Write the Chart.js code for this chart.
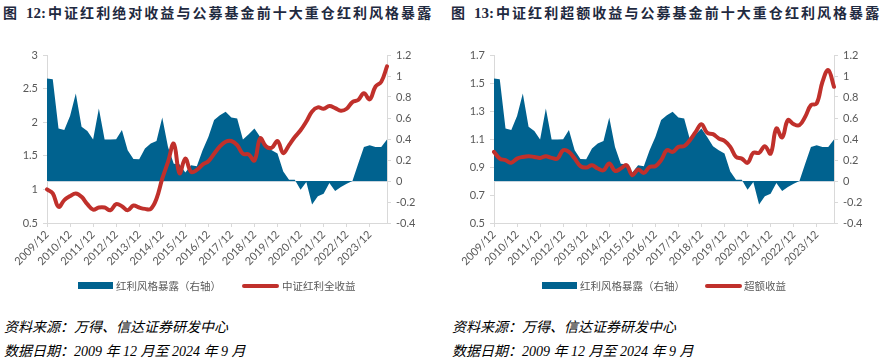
<!DOCTYPE html>
<html><head><meta charset="utf-8">
<script src="https://cdn.jsdelivr.net/npm/chart.js@4/dist/chart.umd.min.js"></script>
<style>
body{margin:0;width:890px;height:364px;background:#fff;position:relative;overflow:hidden;font-family:"Noto Sans CJK SC",sans-serif;}
.title{position:absolute;top:2px;font-size:14px;font-weight:700;color:#1f2a40;white-space:nowrap;line-height:20px;}
.title .num{font-family:"Liberation Serif",serif;font-size:15px;margin-left:9px;margin-right:2px;}
.title .txt{letter-spacing:2.05px;}
.box{position:absolute;top:0;width:445px;height:300px;}
.lg{position:absolute;font-size:10.5px;color:#595959;white-space:nowrap;line-height:14px;top:279px;}
.sw{position:absolute;}
.foot{position:absolute;font-style:italic;font-size:14px;color:#000;white-space:nowrap;font-family:"Liberation Serif","Noto Sans CJK SC",serif;line-height:18px;}
</style></head>
<body>
<div class="title" style="left:3px">图<span class="num">12:</span><span class="txt">中证红利绝对收益与公募基金前十大重仓红利风格暴露</span></div>
<div class="title" style="left:451px">图<span class="num">13:</span><span class="txt">中证红利超额收益与公募基金前十大重仓红利风格暴露</span></div>
<div class="box" style="left:0"><canvas id="c1" width="445" height="300"></canvas></div>
<div class="box" style="left:445px"><canvas id="c2" width="445" height="300"></canvas></div>

<div class="sw" style="left:78px;top:282px;width:35px;height:7px;background:#00628f"></div>
<div class="lg" style="left:116px">红利风格暴露（右轴）</div>
<div class="sw" style="left:242px;top:284px;width:37px;height:4px;border-radius:2px;background:#c0302b"></div>
<div class="lg" style="left:282px">中证红利全收益</div>

<div class="sw" style="left:542px;top:282px;width:35px;height:7px;background:#00628f"></div>
<div class="lg" style="left:580px">红利风格暴露（右轴）</div>
<div class="sw" style="left:705px;top:284px;width:37px;height:4px;border-radius:2px;background:#c0302b"></div>
<div class="lg" style="left:744px">超额收益</div>

<div class="foot" style="left:4px;top:319px">资料来源：万得、信达证券研发中心</div>
<div class="foot" style="left:4px;top:343px">数据日期：2009 年 12 月至 2024 年 9 月</div>
<div class="foot" style="left:452px;top:319px">资料来源：万得、信达证券研发中心</div>
<div class="foot" style="left:452px;top:343px">数据日期：2009 年 12 月至 2024 年 9 月</div>

<script>
// Quarterly categories 2009/12 .. 2024/09
const categories = [];
for (let y = 2009, m = 12; y < 2024 || (y === 2024 && m <= 9); ) {
  categories.push(y + '/' + String(m).padStart(2, '0'));
  m += 3; if (m > 12) { m -= 12; y += 1; }
}
const tickLabels = categories.filter(c => c.endsWith('/12'));

// 红利风格暴露 (right axis), quarterly
const exposure = [
  0.977, 0.968, 0.50, 0.485, 0.618, 0.834, 0.516, 0.477, 0.395, 0.691,
  0.395, 0.395, 0.398, 0.485, 0.293, 0.21, 0.208, 0.309, 0.357, 0.382,
  0.605, 0.325, 0.165, 0.16, 0.08, 0.15, 0.14, 0.293, 0.42, 0.58,
  0.627, 0.659, 0.605, 0.596, 0.395, 0.446, 0.50, 0.42, 0.332, 0.293,
  0.261, 0.09, 0.013, 0.013, -0.083, -0.01, -0.223, -0.146, -0.121, -0.019,
  -0.095, -0.057, -0.025, 0.0, 0.165, 0.325, 0.34, 0.325, 0.325, 0.395
];
// 中证红利全收益 (left axis, chart 12)
const totalReturn = [
  1.00, 0.94, 0.74, 0.84, 0.90, 0.94, 0.89, 0.78, 0.70, 0.73,
  0.73, 0.69, 0.78, 0.75, 0.69, 0.76, 0.73, 0.71, 0.71, 0.86,
  1.16, 1.41, 1.68, 1.24, 1.46, 1.26, 1.29, 1.37, 1.42, 1.53,
  1.64, 1.71, 1.72, 1.66, 1.53, 1.52, 1.43, 1.76, 1.64, 1.62,
  1.72, 1.54, 1.66, 1.78, 1.88, 2.01, 2.16, 2.22, 2.20, 2.24,
  2.21, 2.17, 2.20, 2.30, 2.33, 2.43, 2.34, 2.53, 2.60, 2.83
];
// 超额收益 (left axis, chart 13)
const excessReturn = [
  1.008, 0.96, 0.949, 0.93, 0.96, 0.972, 0.977, 0.972, 0.965, 0.977,
  0.965, 0.96, 1.02, 1.008, 0.96, 0.906, 0.896, 0.913, 0.889, 0.877,
  0.925, 0.872, 0.889, 0.913, 0.841, 0.882, 0.858, 0.90, 0.906, 0.949,
  1.02, 1.008, 1.044, 1.049, 1.092, 1.151, 1.206, 1.144, 1.135, 1.104,
  1.087, 1.044, 0.972, 0.96, 0.93, 1.001, 1.001, 1.049, 0.996, 1.175,
  1.111, 1.235, 1.206, 1.199, 1.259, 1.342, 1.354, 1.509, 1.593, 1.473
];

const AX = '#d9d9d9', TXT = '#595959';
const tickFont = {family: 'Lato, "Noto Sans", sans-serif', size: 11};
const fmt = v => String(parseFloat(Number(v).toFixed(2)));

function makeChart(id, lineLabel, lineData, lmin, lmax, lstep, leftW, rightW) {
  return new Chart(document.getElementById(id), {
    type: 'line',
    data: {
      labels: categories,
      datasets: [
        {label: '红利风格暴露（右轴）', data: exposure, yAxisID: 'y1', fill: 'origin',
         backgroundColor: '#00628f', borderColor: '#00628f', borderWidth: 0,
         pointRadius: 0, tension: 0, order: 2},
        {label: lineLabel, data: lineData, yAxisID: 'y', fill: false,
         borderColor: '#c0302b', borderWidth: 4, pointRadius: 0, tension: 0.4,
         borderCapStyle: 'round', borderJoinStyle: 'round', order: 1}
      ]
    },
    options: {
      responsive: false, animation: false, events: [],
      layout: {padding: {top: 55, left: 0, right: 0, bottom: 0}},
      plugins: {legend: {display: false}, tooltip: {enabled: false}},
      scales: {
        x: {
          ticks: {autoSkip: false, maxRotation: 45, minRotation: 45, color: TXT, font: tickFont, padding: 1,
                  callback: (v, i) => tickLabels.includes(categories[i]) ? categories[i] : ''},
          grid: {drawOnChartArea: false, tickLength: 4,
                 tickColor: c => (c.tick && tickLabels.includes(categories[c.index])) ? AX : 'rgba(0,0,0,0)'},
          border: {color: AX},
          afterFit: s => { s.height = 77; }
        },
        y: {
          position: 'left', min: lmin, max: lmax,
          ticks: {stepSize: lstep, color: TXT, font: tickFont, padding: 5, callback: fmt},
          grid: {drawOnChartArea: false, tickLength: 4, tickColor: AX},
          border: {color: AX},
          afterFit: s => { s.width = leftW; }
        },
        y1: {
          position: 'right', min: -0.4, max: 1.2, z: 1,
          ticks: {stepSize: 0.2, color: TXT, font: tickFont, padding: 5, callback: fmt},
          grid: {drawOnChartArea: true, tickLength: 4, tickColor: AX,
                 color: c => (c.tick && Math.abs(c.tick.value) < 1e-9) ? '#c8d4de' : 'rgba(0,0,0,0)'},
          border: {color: AX},
          afterFit: s => { s.width = rightW; }
        }
      }
    }
  });
}

makeChart('c1', '中证红利全收益', totalReturn, 0.5, 3, 0.5, 47, 58);
makeChart('c2', '超额收益', excessReturn, 0.5, 1.7, 0.2, 49, 56);
</script>
</body></html>
